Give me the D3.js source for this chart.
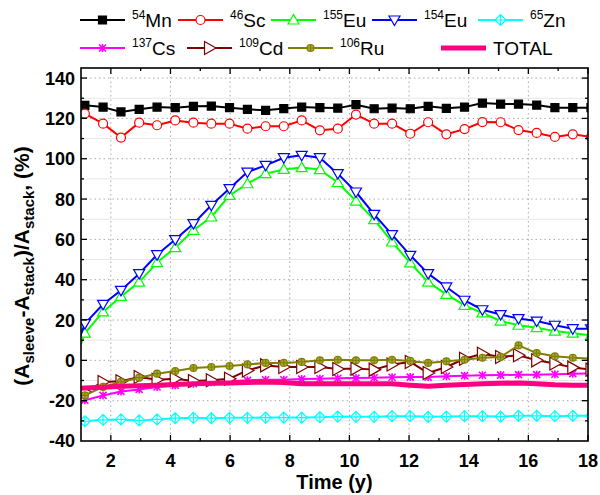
<!DOCTYPE html>
<html><head><meta charset="utf-8">
<script src="https://cdn.jsdelivr.net/npm/d3@7"></script>
<style>body{margin:0;background:#fff} svg{display:block;font-family:Arial,"Liberation Sans",sans-serif}</style>
</head><body><svg id="c" width="600" height="495"></svg>
<script>
// ---- data ----
const time = [0.52, 1.13, 1.74, 2.34, 2.95, 3.55, 4.16, 4.77, 5.37, 5.98, 6.58, 7.19, 7.80, 8.40, 9.01, 9.61, 10.22, 10.83, 11.43, 12.04, 12.64, 13.25, 13.86, 14.46, 15.07, 15.67, 16.28, 16.89, 17.49, 18.10];
const mn54  = [126.5, 126.5, 125.6, 123.2, 124.5, 125.6, 125.3, 126.0, 126.1, 125.3, 124.5, 124.0, 124.9, 125.6, 125.3, 125.1, 126.8, 124.8, 125.1, 124.8, 126.0, 125.0, 125.6, 127.6, 127.1, 127.1, 126.6, 125.3, 125.3, 125.3];
const sc46  = [123.5, 122.4, 117.4, 110.5, 117.9, 116.6, 119.0, 117.9, 117.4, 117.4, 114.9, 116.1, 116.1, 119.0, 114.1, 114.9, 121.9, 117.4, 117.4, 112.4, 118.1, 112.1, 114.7, 118.2, 118.1, 114.2, 112.8, 110.8, 112.1, 110.8];
const eu155 = [-12.0, 13.5, 24.0, 31.7, 38.8, 48.5, 55.9, 64.5, 71.1, 81.8, 87.6, 92.6, 94.7, 95.6, 94.6, 88.2, 79.0, 69.8, 58.7, 48.3, 38.8, 32.7, 27.3, 23.5, 19.5, 17.4, 16.2, 14.5, 13.5, 12.4];
const eu154 = [-6.0, 18.2, 27.8, 34.7, 43.0, 52.4, 59.9, 67.8, 76.9, 85.2, 93.4, 96.7, 100.5, 101.7, 100.5, 92.6, 83.5, 72.4, 62.4, 52.1, 43.0, 36.4, 29.8, 25.1, 22.7, 20.7, 19.5, 17.4, 15.7, 15.6];
const zn65  = [-30.5, -30.2, -29.5, -29.3, -29.8, -29.3, -28.7, -28.5, -28.7, -28.5, -28.5, -28.4, -28.4, -28.4, -28.2, -27.9, -28.0, -28.0, -27.7, -27.7, -28.0, -27.9, -27.7, -27.7, -27.9, -27.5, -27.5, -27.7, -27.5, -27.5];
const cs137 = [-22.5, -19.8, -17.4, -15.4, -14.4, -13.2, -12.4, -11.6, -10.9, -10.4, -9.9, -9.6, -9.6, -9.3, -9.1, -8.9, -8.8, -8.6, -8.4, -8.3, -8.3, -7.9, -7.6, -7.4, -7.3, -7.1, -7.1, -6.9, -6.6, -6.5];
const cd109 = [-19.0, -15.7, -10.7, -10.4, -8.3, -9.6, -9.1, -10.2, -9.9, -9.1, -5.0, -2.5, -3.3, -3.3, -3.3, -4.3, -4.1, -4.6, -2.1, -0.8, -6.3, -3.3, 0.8, 3.3, 1.7, 2.5, 0.0, -1.6, -3.6, -4.6];
const ru106 = [-21.0, -17.4, -13.2, -10.7, -8.6, -6.6, -5.3, -3.8, -3.3, -2.8, -2.0, -1.3, -1.3, -0.8, 0.0, 0.3, 0.0, 0.0, 0.3, -0.3, -1.3, -0.5, 0.3, 1.3, 1.7, 7.4, 3.6, 2.0, 1.3, 0.8];
const total = [-14.2, -13.7, -13.3, -12.9, -12.6, -12.4, -12.0, -11.6, -11.4, -11.2, -11.0, -10.7, -11.0, -11.6, -11.6, -11.6, -11.6, -11.6, -11.6, -12.3, -12.9, -12.4, -12.0, -11.6, -11.4, -11.2, -11.6, -12.1, -12.3, -12.4];
const xTicks = [2, 4, 6, 8, 10, 12, 14, 16, 18];
const yTicks = [-40, -20, 0, 20, 40, 60, 80, 100, 120, 140];
const massNumbers = ["54", "46", "155", "154", "65", "137", "109", "106", ""];
const elements = ["Mn", "Sc", "Eu", "Eu", "Zn", "Cs", "Cd", "Ru", "TOTAL"];

// ---- styles / layout ----
const series = [
  {v: mn54,  color: "#000000", m: "square", w: 2},
  {v: sc46,  color: "#ff0000", m: "circle", w: 2},
  {v: eu155, color: "#00ff00", m: "up",     w: 2},
  {v: eu154, color: "#0000ff", m: "down",   w: 2},
  {v: zn65,  color: "#00ffff", m: "diamond",w: 2},
  {v: cs137, color: "#ff00ff", m: "star",   w: 2},
  {v: cd109, color: "#800000", m: "right",  w: 2},
  {v: ru106, color: "#808000", m: "dot",    w: 2},
  {v: total, color: "#ff0080", m: null,     w: 5}
];
const legendPos = [[80,20],[178,20],[271,20],[372,20],[478,20],[80,48],[187,48],[288,48],[441,48]];

const svg = d3.select("#c");
const L = 81, R = 588, T = 68, B = 441;
const x = d3.scaleLinear().domain([1, 18]).range([L, R]);
const y = d3.scaleLinear().domain([-40, 145]).range([B, T]);

// grid
const g = svg.append("g");
g.selectAll(".hmin").data(d3.range(-30, 145, 20)).enter().append("line")
  .attr("x1", L).attr("x2", R).attr("y1", d => y(d)).attr("y2", d => y(d))
  .attr("stroke", "#e6e6e6").attr("stroke-width", 1);
g.selectAll(".hmaj").data(yTicks.filter(d => d > -40)).enter().append("line")
  .attr("x1", L).attr("x2", R).attr("y1", d => y(d)).attr("y2", d => y(d))
  .attr("stroke", "#aaaaaa").attr("stroke-width", 1).attr("stroke-dasharray", "1.5,3");
g.selectAll(".vmaj").data(xTicks.filter(d => d < 18)).enter().append("line")
  .attr("y1", T).attr("y2", B).attr("x1", d => x(d)).attr("x2", d => x(d))
  .attr("stroke", "#aaaaaa").attr("stroke-width", 1).attr("stroke-dasharray", "1.5,3");

// clip
svg.append("defs").append("clipPath").attr("id", "clip").append("rect")
  .attr("x", L).attr("y", T).attr("width", R - L).attr("height", B - T);

function markerPath(m) {
  switch (m) {
    case "square": return "M-4,-4H4V4H-4Z";
    case "circle": return "M-4.5,0A4.5,4.5 0 1,0 4.5,0A4.5,4.5 0 1,0 -4.5,0Z";
    case "up": return "M0,-5.5L5.5,4L-5.5,4Z";
    case "down": return "M0,5.5L5.5,-4L-5.5,-4Z";
    case "diamond": return "M0,-5.5L5.5,0L0,5.5L-5.5,0ZM0,-5.5V5.5M-5.5,0H5.5";
    case "star": return "M-3.5,-3.5L3.5,3.5M3.5,-3.5L-3.5,3.5M0,-4V4";
    case "right": return "M6.5,0L-5,-6.5L-5,6.5Z";
    case "dot": return "M-3.5,0A3.5,3.5 0 1,0 3.5,0A3.5,3.5 0 1,0 -3.5,0ZM0,-3.5V3.5M-3.5,0H3.5";
  }
}
function markerFill(s) {
  if (s.m === "square") return s.color;
  if (s.m === "dot") return "#a8a840";
  return s.m === "star" ? "none" : "#ffffff";
}

const plot = svg.append("g").attr("clip-path", "url(#clip)");
const line = d3.line().x((d, i) => x(time[i])).y(d => y(d));
series.forEach(s => {
  plot.append("path").datum(s.v).attr("d", line).attr("fill", "none")
    .attr("stroke", s.color).attr("stroke-width", s.w).attr("stroke-linejoin", "round");
  if (s.m) {
    plot.selectAll(null).data(s.v).enter().append("path")
      .attr("transform", (d, i) => `translate(${x(time[i])},${y(d)})`)
      .attr("d", markerPath(s.m)).attr("fill", markerFill(s))
      .attr("stroke", s.color).attr("stroke-width", s.m === "star" ? 1.6 : 1.2);
  }
});

// frame
svg.append("rect").attr("x", L).attr("y", T).attr("width", R - L).attr("height", B - T)
  .attr("fill", "none").attr("stroke", "#000").attr("stroke-width", 1.6);

// ticks (inward, mirrored)
const tk = svg.append("g").attr("stroke", "#000").attr("stroke-width", 1.3);
d3.range(2, 18.01, 1).forEach(v => {
  const len = v % 2 === 0 ? 6 : 3;
  tk.append("line").attr("x1", x(v)).attr("x2", x(v)).attr("y1", B).attr("y2", B - len);
  tk.append("line").attr("x1", x(v)).attr("x2", x(v)).attr("y1", T).attr("y2", T + len);
});
d3.range(-30, 145, 10).forEach(v => {
  const len = v % 20 === 0 ? 6 : 3;
  tk.append("line").attr("y1", y(v)).attr("y2", y(v)).attr("x1", L).attr("x2", L + len);
  tk.append("line").attr("y1", y(v)).attr("y2", y(v)).attr("x1", R).attr("x2", R - len);
});

// tick labels
svg.append("g").selectAll("text").data(xTicks).enter().append("text")
  .attr("x", d => x(d)).attr("y", 467).attr("text-anchor", "middle")
  .attr("font-size", 18).attr("font-weight", "bold").text(d => d);
svg.append("g").selectAll("text").data(yTicks).enter().append("text")
  .attr("x", 75).attr("y", d => y(d)).attr("dy", "0.36em").attr("text-anchor", "end")
  .attr("font-size", 18).attr("font-weight", "bold").text(d => d);

// axis titles
svg.append("text").attr("x", (L + R) / 2).attr("y", 489).attr("text-anchor", "middle")
  .attr("font-size", 20).attr("font-weight", "bold").text("Time (y)");
const yt = svg.append("text").attr("transform", "translate(29,266) rotate(-90)")
  .attr("text-anchor", "middle").attr("font-size", 21).attr("font-weight", "bold");
[["(A", 0], ["sleeve", 1], ["-A", 0], ["stack", 1], [")/A", 0], ["stack", 1], [", (%)", 0]].forEach(([t, sub], i, arr) => {
  const prevSub = i > 0 ? arr[i - 1][1] : 0;
  const dy = sub && !prevSub ? 5 : (!sub && prevSub ? -5 : 0);
  yt.append("tspan").attr("dy", dy).attr("font-size", sub ? 15 : 21).text(t);
});

// legend
const lg = svg.append("g");
series.forEach((s, i) => {
  const [lx, ly] = legendPos[i];
  lg.append("line").attr("x1", lx).attr("x2", lx + 45).attr("y1", ly).attr("y2", ly)
    .attr("stroke", s.color).attr("stroke-width", s.w);
  if (s.m) lg.append("path").attr("transform", `translate(${lx + 22.5},${ly})`)
    .attr("d", markerPath(s.m)).attr("fill", markerFill(s))
    .attr("stroke", s.color).attr("stroke-width", s.m === "star" ? 1.6 : 1.2);
  const t = lg.append("text").attr("x", lx + 52).attr("y", ly + 7).attr("font-size", 19);
  if (massNumbers[i]) t.append("tspan").attr("font-size", 12).attr("dy", -8).text(massNumbers[i]);
  t.append("tspan").attr("dy", massNumbers[i] ? 8 : 0).text(elements[i]);
});
</script></body></html>
